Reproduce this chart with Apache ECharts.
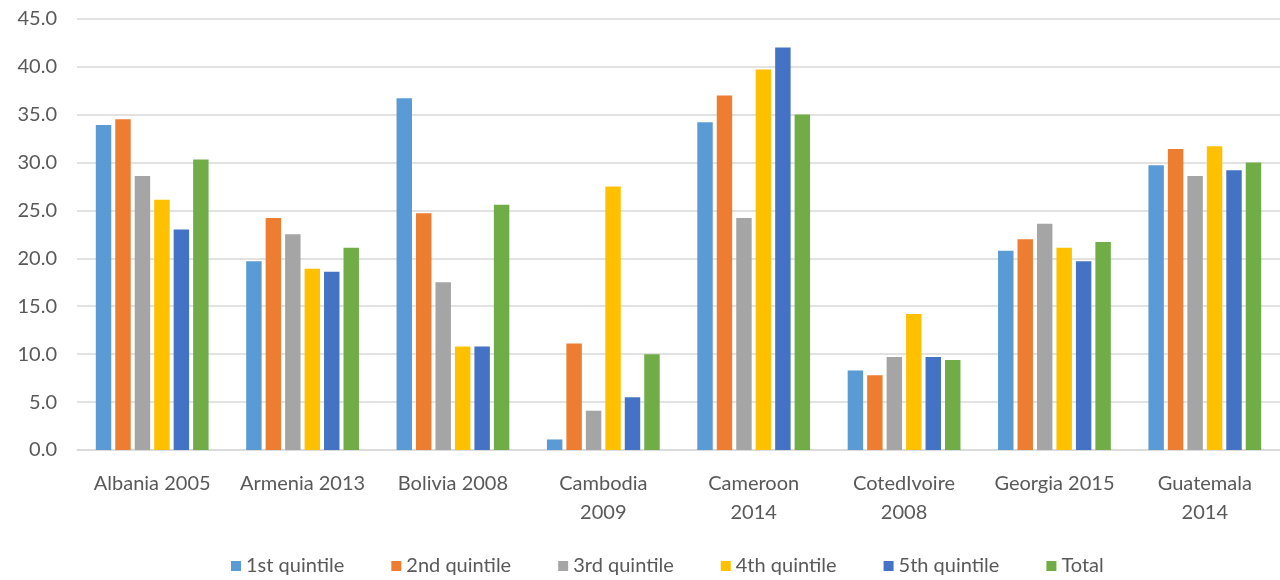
<!DOCTYPE html>
<html><head><meta charset="utf-8">
<script src="https://cdn.jsdelivr.net/npm/echarts@6/dist/echarts.min.js"></script>
<style>html,body{margin:0;padding:0;background:#fff}#c{width:1280px;height:580px}</style>
</head><body><div id="c"></div>
<script>
const categories = ['Albania 2005','Armenia 2013','Bolivia 2008','Cambodia\n2009','Cameroon\n2014','CotedIvoire\n2008','Georgia 2015','Guatemala\n2014'];
const seriesNames = ['1st quintile','2nd quintile','3rd quintile','4th quintile','5th quintile','Total'];
const q1 = [33.9, 19.7, 36.7, 1.1, 34.2, 8.3, 20.8, 29.7];
const q2 = [34.5, 24.2, 24.7, 11.1, 37.0, 7.8, 22.0, 31.4];
const q3 = [28.6, 22.5, 17.5, 4.1, 24.2, 9.7, 23.6, 28.6];
const q4 = [26.1, 18.9, 10.8, 27.5, 39.7, 14.2, 21.1, 31.7];
const q5 = [23.0, 18.6, 10.8, 5.5, 42.0, 9.7, 19.7, 29.2];
const total = [30.3, 21.1, 25.6, 10.0, 35.0, 9.4, 21.7, 30.0];
const colors = ['#5B9BD5','#ED7D31','#A5A5A5','#FFC000','#4472C4','#70AD47'];
const allData = [q1,q2,q3,q4,q5,total];
const font = 'Lato, "Liberation Sans", sans-serif';
const chart = echarts.init(document.getElementById('c'));
chart.setOption({
  animation:false,
  color: colors,
  grid:{left:77, top:18.7, width:1208, bottom:130, containLabel:false},
  legend:{
    data: seriesNames, top:551, left:226, itemWidth:10, itemHeight:10, itemGap:47, itemTextGap:7,
    icon:'rect',
    textStyle:{color:'#595959', fontSize:20, fontFamily:font}
  },
  xAxis:{
    type:'category', data:categories,
    axisLine:{show:true, lineStyle:{color:'#D9D9D9', width:1.5}},
    axisTick:{show:false},
    axisLabel:{color:'#595959', fontSize:20, fontFamily:font, margin:19, lineHeight:29, interval:0}
  },
  yAxis:{
    type:'value', min:0, max:45, interval:5,
    axisLine:{show:false}, axisTick:{show:false},
    splitLine:{lineStyle:{color:'#D9D9D9', width:1.5}},
    axisLabel:{color:'#595959', fontSize:20, fontFamily:font, margin:20, formatter:v=>v.toFixed(1)}
  },
  series: seriesNames.map((n,i)=>({
    name:n, type:'bar', data:allData[i], barGap:'26%', barCategoryGap:'25%'
  }))
});
</script></body></html>
